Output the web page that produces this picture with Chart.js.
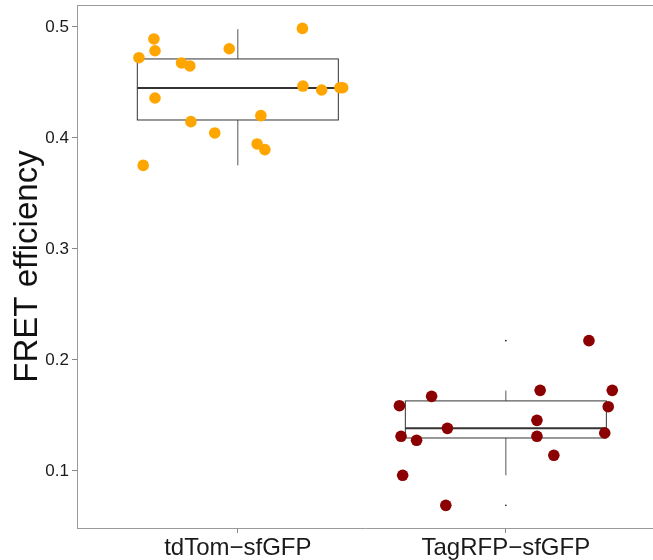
<!DOCTYPE html>
<html>
<head>
<meta charset="utf-8">
<script src="https://cdn.jsdelivr.net/npm/chart.js@4"></script>
<style>
  html, body { margin: 0; padding: 0; background: #fff; }
  canvas { display: block; }
</style>
</head>
<body>
<canvas id="chart" width="653" height="560"></canvas>
<script>
// categories and tick labels
const categories = ['tdTom\u2212sfGFP', 'TagRFP\u2212sfGFP'];
const yTicks = [0.1, 0.2, 0.3, 0.4, 0.5];

// jittered points, group 1 (tdTom-sfGFP)
const tdTomX = [0.631, 0.687, 0.691, 0.790, 0.821, 0.968, 1.241, 0.691, 1.243, 1.313, 1.381, 1.391, 0.825, 1.086, 0.914, 1.072, 1.101, 0.647];
const tdTomY = [0.4723, 0.4892, 0.4786, 0.4676, 0.4649, 0.4804, 0.4987, 0.4360, 0.4468, 0.4432, 0.4453, 0.4453, 0.4147, 0.4201, 0.4045, 0.3946, 0.3895, 0.3753];

// jittered points, group 2 (TagRFP-sfGFP)
const tagX = [2.310, 2.128, 2.397, 1.723, 1.603, 2.382, 2.116, 1.782, 1.609, 2.116, 2.369, 1.667, 2.179, 1.615, 1.776];
const tagY = [0.2174, 0.1726, 0.1726, 0.1672, 0.1588, 0.1579, 0.1456, 0.1384, 0.1312, 0.1312, 0.1342, 0.1276, 0.1141, 0.0961, 0.0690];

// box statistics per category
const boxLow = [0.3753, 0.0961];
const boxQ1 = [0.4162, 0.1297];
const boxMedian = [0.4450, 0.1384];
const boxQ3 = [0.4712, 0.1631];
const boxHigh = [0.4980, 0.1724];
const outliers = [[], [0.2174, 0.0690]];

const toPoints = (xs, ys) => xs.map((x, i) => ({ x: x, y: ys[i] }));

// keep the plot panel where the reference has it
const noPad = (scale) => {
  scale.paddingTop = 0;
  scale.paddingBottom = 0;
  scale.paddingLeft = 0;
  scale.paddingRight = 0;
};

// boxes, whiskers and the top panel border
const boxPlugin = {
  id: 'boxes',
  beforeDatasetsDraw(chart) {
    const ctx = chart.ctx;
    const xs = chart.scales.x;
    const ys = chart.scales.y;
    const area = chart.chartArea;
    ctx.save();
    ctx.strokeStyle = '#9a9a9a';
    ctx.lineWidth = 1;
    ctx.beginPath();
    ctx.moveTo(area.left, area.top + 0.5);
    ctx.lineTo(area.right, area.top + 0.5);
    ctx.stroke();

    categories.forEach((c, i) => {
      const cx = xs.getPixelForValue(i + 1);
      const left = xs.getPixelForValue(i + 1 - 0.375);
      const right = xs.getPixelForValue(i + 1 + 0.375);
      const q1 = ys.getPixelForValue(boxQ1[i]);
      const q3 = ys.getPixelForValue(boxQ3[i]);
      const med = ys.getPixelForValue(boxMedian[i]);

      // whiskers
      ctx.strokeStyle = '#555';
      ctx.lineWidth = 1;
      ctx.beginPath();
      ctx.moveTo(cx, ys.getPixelForValue(boxHigh[i]));
      ctx.lineTo(cx, q3);
      ctx.moveTo(cx, q1);
      ctx.lineTo(cx, ys.getPixelForValue(boxLow[i]));
      ctx.stroke();

      // box
      ctx.fillStyle = '#fff';
      ctx.fillRect(left, q3, right - left, q1 - q3);
      ctx.strokeStyle = '#333';
      ctx.strokeRect(left, q3, right - left, q1 - q3);

      // median
      ctx.lineWidth = 2;
      ctx.strokeStyle = '#333';
      ctx.beginPath();
      ctx.moveTo(left, med);
      ctx.lineTo(right, med);
      ctx.stroke();

      // outliers
      ctx.fillStyle = '#000';
      outliers[i].forEach(v => {
        ctx.beginPath();
        ctx.arc(cx, ys.getPixelForValue(v), 0.8, 0, Math.PI * 2);
        ctx.fill();
      });
    });
    ctx.restore();
  }
};

const ctx = document.getElementById('chart').getContext('2d');

const chart = new Chart(ctx, {
  type: 'scatter',
  data: {
    datasets: [{
      label: categories[0],
      data: toPoints(tdTomX, tdTomY),
      backgroundColor: '#FFA500',
      borderWidth: 0,
      pointRadius: 5.8,
      pointHoverRadius: 5.8
    }, {
      label: categories[1],
      data: toPoints(tagX, tagY),
      backgroundColor: '#8B0000',
      borderWidth: 0,
      pointRadius: 5.8,
      pointHoverRadius: 5.8
    }]
  },
  options: {
    responsive: false,
    animation: false,
    layout: { autoPadding: false, padding: { top: 5, left: 0, right: 0, bottom: 0 } },
    plugins: {
      legend: { display: false },
      tooltip: { enabled: false }
    },
    scales: {
      x: {
        type: 'linear',
        min: 0.4,
        max: 2.549,
        afterBuildTicks: (scale) => { scale.ticks = categories.map((c, i) => ({ value: i + 1 })); },
        afterFit: (scale) => { scale.height = 32; noPad(scale); },
        ticks: {
          callback: (v) => categories[v - 1],
          font: { family: 'Liberation Sans', size: 24 },
          color: '#1a1a1a',
          padding: 1,
          maxRotation: 0
        },
        grid: { drawOnChartArea: false, tickLength: 5, color: '#888' },
        border: { color: '#9a9a9a', width: 1 }
      },
      y: {
        type: 'linear',
        min: 0.0486,
        max: 0.5198,
        afterBuildTicks: (scale) => { scale.ticks = yTicks.map(v => ({ value: v })); },
        afterFit: (scale) => { scale.width = 77; noPad(scale); },
        ticks: {
          callback: (v) => v.toFixed(1),
          font: { family: 'Liberation Sans', size: 17 },
          color: '#1a1a1a',
          padding: 3
        },
        grid: { drawOnChartArea: false, tickLength: 5, color: '#888' },
        border: { color: '#9a9a9a', width: 1 },
        title: {
          display: true,
          text: 'FRET efficiency',
          font: { family: 'Liberation Sans', size: 33 },
          color: '#111',
          padding: { top: 8, bottom: 0 }
        }
      }
    }
  },
  plugins: [boxPlugin]
});
</script>
</body>
</html>
